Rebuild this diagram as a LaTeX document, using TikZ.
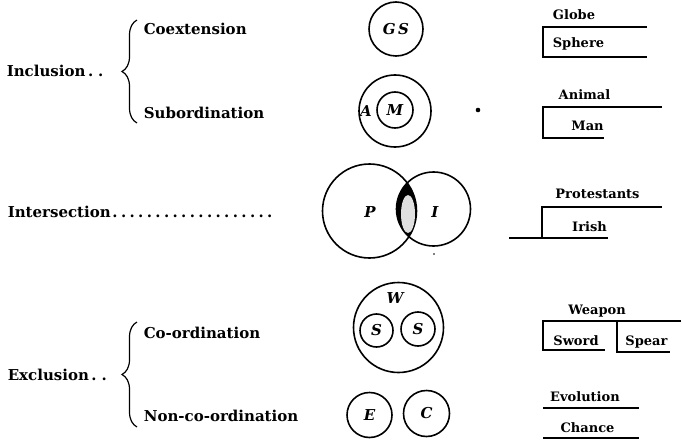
\documentclass[tikz,border=0pt]{standalone}
\usepackage{fontspec}
\setmainfont{DejaVu Serif}
\usetikzlibrary{decorations.pathreplacing}
\begin{document}
\begin{tikzpicture}[x=1pt,y=-1pt,line width=1.6pt,
  lab/.style={font=\fontsize{15}{17}\selectfont\bfseries,inner sep=0pt,anchor=base west},
  tlab/.style={font=\fontsize{13}{15}\selectfont\bfseries,inner sep=0pt,anchor=base},
  clet/.style={font=\fontsize{15}{17}\selectfont\bfseries\itshape,inner sep=0pt},
  ring/.style={circle,draw,inner sep=0pt,font=\fontsize{15}{17}\selectfont\bfseries\itshape},
  bracepath/.style={decorate,decoration={brace,amplitude=15pt},line width=1.2pt},
  tline/.style={line width=1.6pt}]
\useasboundingbox (0,0) rectangle (682,441);

% ---- left labels
\node[lab] (incl) at (6,77) {Inclusion\,.\hspace{5pt}.};
\node[lab] (coext) at (143,35) {Coextension};
\node[lab] (subord) at (143,119) {Subordination};
\node[lab] (inter) at (7,217) {Intersection\hbox to 166pt{\leaders\hbox to 8.6pt{\hss.\hss}\hfill}};
\node[lab] (excl) at (7,380) {Exclusion\,.\hspace{5pt}.};
\node[lab] (coord) at (143,338) {Co-ordination};
\node[lab] (noncoord) at (143,421) {Non-co-ordination};

\coordinate (b1a) at (137,123);
\coordinate (b1b) at (137,20);
\coordinate (b2a) at (137,427);
\coordinate (b2b) at (137,322);
\draw[bracepath] (b1a) -- (b1b);
\draw[bracepath] (b2a) -- (b2b);

% ---- circles
\node[ring,minimum size=54pt] (GS) at (396,29) {G\,S};
\node[ring,minimum size=72pt] (Acirc) at (395,111) {};
\node[ring,minimum size=36pt] (M) at (395,110) {M};
\node[clet] (Alab) at (366,111) {A};
\fill (478,110) circle (2.3pt);

\node[ring,minimum size=94pt] (P) at (369.5,211) {};
\node[ring,minimum size=74pt] (I) at (433.5,209) {};
\begin{scope}
  \clip (P.center) circle (47pt);
  \fill (I.center) circle (37pt);
\end{scope}
\fill[gray!25] (408,214) ellipse (7pt and 19pt);
\node[clet] (Plab) at (370,212) {P};
\node[clet] (Ilab) at (435,212) {I};
\fill (434,254) circle (0.9pt);

\node[ring,minimum size=90pt] (W) at (398.5,327.5) {};
\node[clet] (Wlab) at (395,298) {W};
\node[ring,minimum size=33pt] (S1) at (376.5,330.5) {S};
\node[ring,minimum size=34pt] (S2) at (418,329) {S};
\node[ring,minimum size=45pt] (E) at (369.5,415) {E};
\node[ring,minimum size=46pt] (C) at (426.5,413.5) {C};

% ---- right-hand tables
\node[tlab] (globe) at (574,20) {Globe};
\node[tlab,anchor=base west] (sphere) at (552,48) {Sphere};
\draw[tline] (647,27) -- (543,27) -- (543,57) -- (647,57);

\node[tlab] (animal) at (584.5,100) {Animal};
\node[tlab] (man) at (587.5,131) {Man};
\draw[tline] (662,107) -- (543,107) -- (543,138) -- (604,138);

\node[tlab] (prot) at (597.5,198) {Protestants};
\node[tlab] (irish) at (589.5,231) {Irish};
\draw[tline] (662,207) -- (542,207) -- (542,238);
\draw[tline] (509,238) -- (608,238);

\node[tlab] (weapon) at (597,314) {Weapon};
\node[tlab] (sword) at (576,345) {Sword};
\node[tlab] (spear) at (646.5,345) {Spear};
\draw[tline] (681,321) -- (543,321) -- (543,350) -- (605,350);
\draw[tline] (617,322) -- (617,352) -- (670,352);

\node[tlab] (evol) at (585,401.5) {Evolution};
\node[tlab] (chance) at (587.5,432) {Chance};
\draw[tline] (543,408) -- (639,408);
\draw[tline] (543,438) -- (639,438);
\end{tikzpicture}
\end{document}
